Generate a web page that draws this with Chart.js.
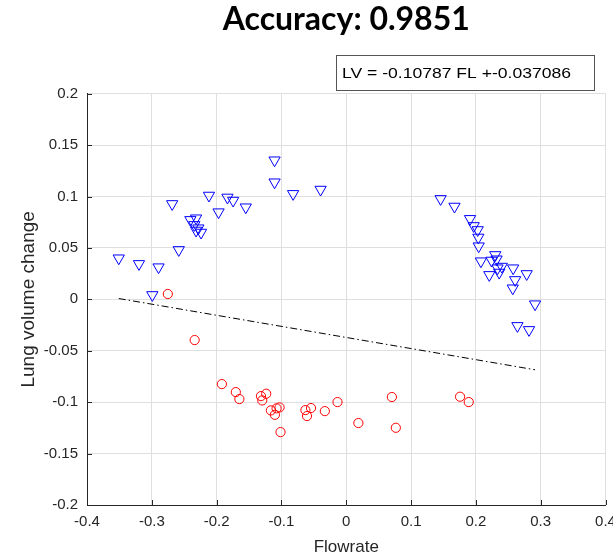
<!DOCTYPE html>
<html>
<head>
<meta charset="utf-8">
<script src="https://cdn.jsdelivr.net/npm/chart.js@4/dist/chart.umd.min.js"></script>
<style>
  html, body { margin: 0; padding: 0; background: #fff; }
  #wrap { position: relative; width: 613px; height: 555px; }
</style>
</head>
<body>
<div id="wrap"><canvas id="c" width="613" height="555"></canvas></div>
<script>
// ---- Data ----
const titleText = 'Accuracy: 0.9851';
const equationText = 'LV = -0.10787 FL +-0.037086';
const xLabel = 'Flowrate';
const yLabel = 'Lung volume change';

// Class "v" (blue downward triangles)
const triFlow = [
  -0.1106, -0.1106, -0.082, -0.0396, -0.2686, -0.2118, -0.1833, -0.1745, -0.155, -0.197,
  -0.2405, -0.2317, -0.2344, -0.2282, -0.2317, -0.224, -0.2584, -0.351, -0.3198, -0.2896, -0.2992,
  0.1456, 0.167, 0.191, 0.1966, 0.2028, 0.2038, 0.2043, 0.2078, 0.2299, 0.2319, 0.2242,
  0.2334, 0.2400, 0.2360, 0.2207, 0.2575, 0.2784, 0.2606, 0.2569, 0.2913, 0.2641, 0.2820
];
const triVol = [
  0.1353, 0.1139, 0.1026, 0.1068, 0.0928, 0.1010, 0.0991, 0.0961, 0.0896, 0.0848,
  0.0773, 0.0789, 0.0724, 0.0692, 0.0670, 0.0650, 0.0481, 0.0400, 0.0345, 0.0313, 0.0043,
  0.0977, 0.0903, 0.0783, 0.0714, 0.0675, 0.0602, 0.0517, 0.0371, 0.0432, 0.0390, 0.0378,
  0.0303, 0.0319, 0.0261, 0.0238, 0.0303, 0.0247, 0.0189, 0.0108, -0.0047, -0.0258, -0.0297
];

// Class "o" (red circles)
const circFlow = [
  -0.2753, -0.2339, -0.1919, -0.1704, -0.1649, -0.1316, -0.1235, -0.1296, -0.1163, -0.1075,
  -0.1029, -0.1101, -0.1014, -0.063, -0.0544, -0.0606, -0.033, -0.0135, 0.0187, 0.0704,
  0.0765, 0.1756, 0.189
];
const circVol = [
  0.0052, -0.0396, -0.0824, -0.0902, -0.097, -0.0941, -0.0918, -0.0983, -0.108, -0.106,
  -0.1051, -0.1123, -0.1291, -0.1077, -0.1057, -0.1135, -0.1087, -0.0999, -0.1203, -0.095,
  -0.1249, -0.0947, -0.0999
];

// Decision line end points
const lineFlow = [-0.351, 0.2913];
const lineVol = [0.0008, -0.0685];

// Tick values
const xTicks = [-0.4, -0.3, -0.2, -0.1, 0, 0.1, 0.2, 0.3, 0.4];
const yTicks = [-0.2, -0.15, -0.1, -0.05, 0, 0.05, 0.1, 0.15, 0.2];

// ---- Build chart ----
const toPts = (xs, ys) => xs.map((x, i) => ({ x: x, y: ys[i] }));
const AXIS = '#262626';
const GRID = '#dfdfdf';
const FONT = "'Liberation Sans', Arial, sans-serif";

const innerTicks = {
  id: 'innerTicks',
  afterDraw(chart) {
    const ctx = chart.ctx, a = chart.chartArea;
    const xs = chart.scales.x, ys = chart.scales.y;
    ctx.save();
    ctx.strokeStyle = AXIS;
    ctx.lineWidth = 1;
    ctx.beginPath();
    xTicks.forEach(v => {
      const p = Math.round(xs.getPixelForValue(v)) + 0.5;
      ctx.moveTo(p, a.bottom);
      ctx.lineTo(p, a.bottom - 5);
    });
    yTicks.forEach(v => {
      const p = Math.round(ys.getPixelForValue(v)) + 0.5;
      ctx.moveTo(a.left, p);
      ctx.lineTo(a.left + 5, p);
    });
    ctx.stroke();
    // equation box
    ctx.fillStyle = '#fff';
    ctx.fillRect(336.5, 55.5, 258, 35);
    ctx.strokeStyle = '#555';
    ctx.strokeRect(336.5, 55.5, 258, 35);
    ctx.fillStyle = '#000';
    ctx.font = '15px ' + FONT;
    ctx.textBaseline = 'middle';
    ctx.textAlign = 'left';
    ctx.translate(342, 73.5);
    ctx.scale(1.17, 1);
    ctx.fillText(equationText, 0, 0);
    ctx.restore();
  }
};

new Chart(document.getElementById('c'), {
  type: 'scatter',
  data: {
    datasets: [
      {
        type: 'line',
        label: 'boundary',
        data: toPts(lineFlow, lineVol),
        borderColor: '#000',
        borderWidth: 1,
        borderDash: [7, 3, 1.5, 3],
        pointRadius: 0,
        fill: false
      },
      {
        label: 'class 1',
        data: toPts(triFlow, triVol),
        pointStyle: 'triangle',
        rotation: 180,
        pointRadius: 6.5,
        borderColor: '#0000ff',
        backgroundColor: 'rgba(0,0,0,0)',
        borderWidth: 1
      },
      {
        label: 'class 2',
        data: toPts(circFlow, circVol),
        pointStyle: 'circle',
        pointRadius: 4.6,
        borderColor: '#ff0000',
        backgroundColor: 'rgba(0,0,0,0)',
        borderWidth: 1
      }
    ]
  },
  options: {
    responsive: false,
    animation: false,
    events: [],
    layout: { padding: { left: 0, right: 5.5, top: 0, bottom: 0 } },
    plugins: {
      legend: { display: false },
      tooltip: { enabled: false },
      title: {
        display: true,
        fullSize: false,
        text: titleText,
        color: '#000',
        font: { family: 'Lato, sans-serif', size: 32, weight: 'bold' },
        padding: { top: 0, bottom: 55.3 }
      }
    },
    scales: {
      x: {
        type: 'linear',
        min: -0.4, max: 0.4,
        afterBuildTicks: s => { s.ticks = xTicks.map(v => ({ value: v })); },
        afterFit: s => { s.height = 50; s.paddingLeft = 0; s.paddingRight = 0; },
        grid: { color: GRID, drawTicks: false },
        border: { display: true, color: AXIS },
        ticks: {
          color: AXIS, padding: 8,
          font: { family: FONT, size: 15 },
          callback: v => String(Math.round(v * 100) / 100)
        },
        title: {
          display: true, text: xLabel, color: AXIS,
          font: { family: FONT, size: 17 },
          padding: { top: 0, bottom: -3 }
        }
      },
      y: {
        type: 'linear',
        min: -0.2, max: 0.2,
        afterBuildTicks: s => { s.ticks = yTicks.map(v => ({ value: v })); },
        afterFit: s => { s.width = 87; s.paddingTop = 0; s.paddingBottom = 0; },
        grid: { color: GRID, drawTicks: false },
        border: { display: true, color: AXIS },
        ticks: {
          color: AXIS, padding: 9,
          font: { family: FONT, size: 15 },
          callback: v => String(Math.round(v * 100) / 100)
        },
        title: {
          display: true, text: yLabel, color: AXIS,
          font: { family: FONT, size: 19 },
          padding: { top: 17, bottom: 0 }
        }
      }
    }
  },
  plugins: [innerTicks]
});
</script>
</body>
</html>
